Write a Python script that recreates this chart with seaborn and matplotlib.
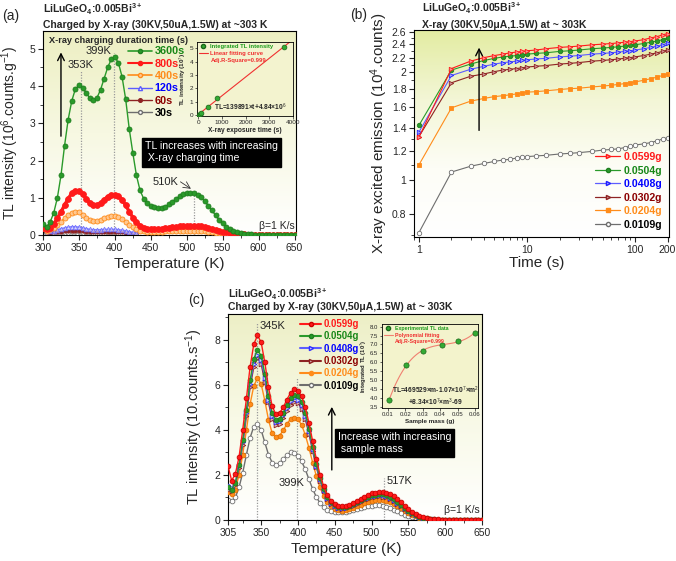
import numpy as np
import matplotlib
matplotlib.use("Agg")
import matplotlib.pyplot as plt
from matplotlib.lines import Line2D
from matplotlib.colors import LinearSegmentedColormap
import matplotlib.ticker as mticker
import seaborn as sns

sns.set_theme(style="ticks")
plt.rcParams['font.family'] = ['Liberation Sans', 'DejaVu Sans']
plt.rcParams['mathtext.fontset'] = 'custom'
plt.rcParams['mathtext.rm'] = 'Liberation Sans'
plt.rcParams['mathtext.it'] = 'Liberation Sans:italic'
plt.rcParams['mathtext.bf'] = 'Liberation Sans:bold'
plt.rcParams['axes.edgecolor'] = 'black'
plt.rcParams['axes.linewidth'] = 0.8

# ---------------- DATA ----------------
# Panel (a): TL glow curves for different X-ray charging times
temp_a = list(range(300, 655, 5))          # 71 points
temp_a_short = list(range(300, 435, 5))    # 27 points
tl_3600s = [0.30, 0.22, 0.35, 0.60, 1.00, 1.60, 2.40, 3.10, 3.60, 3.92,
            4.02, 3.96, 3.82, 3.68, 3.62, 3.68, 3.90, 4.20, 4.50, 4.72,
            4.78, 4.62, 4.25, 3.65, 2.85, 2.20, 1.60, 1.20, 0.98, 0.85,
            0.78, 0.74, 0.72, 0.73, 0.76, 0.82, 0.89, 0.97, 1.04, 1.09,
            1.12, 1.13, 1.12, 1.08, 1.01, 0.91, 0.79, 0.66, 0.53, 0.41,
            0.31, 0.22, 0.15, 0.10, 0.07, 0.05, 0.03, 0.02, 0.015, 0.01,
            0.01, 0.01, 0.01, 0.01, 0.01, 0.01, 0.01, 0.01, 0.01, 0.01,
            0.01]
tl_800s = [0.20, 0.15, 0.20, 0.30, 0.45, 0.62, 0.80, 0.98, 1.12, 1.19,
           1.18, 1.10, 0.98, 0.86, 0.80, 0.80, 0.86, 0.95, 1.03, 1.08,
           1.08, 1.04, 0.95, 0.80, 0.63, 0.47, 0.34, 0.25, 0.20, 0.17,
           0.16, 0.16, 0.16, 0.17, 0.18, 0.20, 0.21, 0.22, 0.23, 0.24,
           0.25, 0.25, 0.25, 0.24, 0.23, 0.21, 0.19, 0.16, 0.14, 0.11,
           0.09, 0.07, 0.05, 0.04, 0.03, 0.02, 0.015, 0.01, 0.005, 0.0,
           0.0, 0.0, 0.0, 0.0, 0.0, 0.0, 0.0, 0.0, 0.0, 0.0,
           0.0]
tl_400s = [0.18, 0.12, 0.15, 0.20, 0.27, 0.36, 0.45, 0.54, 0.60, 0.63,
           0.61, 0.55, 0.47, 0.41, 0.38, 0.38, 0.41, 0.45, 0.48, 0.50,
           0.50, 0.48, 0.43, 0.36, 0.28, 0.21, 0.15, 0.12, 0.10, 0.09,
           0.085, 0.085, 0.085, 0.09, 0.095, 0.10, 0.105, 0.11, 0.115, 0.12,
           0.12, 0.12, 0.12, 0.115, 0.11, 0.10, 0.09, 0.08, 0.065, 0.05,
           0.04, 0.03, 0.02, 0.015, 0.01, 0.005, 0.0, 0.0, 0.0, 0.0,
           0.0, 0.0, 0.0, 0.0, 0.0, 0.0, 0.0, 0.0, 0.0, 0.0,
           0.0]
tl_120s = [0.15, 0.10, 0.10, 0.12, 0.14, 0.17, 0.19, 0.21, 0.22, 0.22,
           0.21, 0.19, 0.17, 0.15, 0.14, 0.14, 0.14, 0.15, 0.15, 0.15,
           0.15, 0.14, 0.13, 0.11, 0.09, 0.07, 0.05]
tl_60s = [0.12, 0.07, 0.06, 0.07, 0.08, 0.09, 0.10, 0.11, 0.12, 0.12,
          0.11, 0.10, 0.09, 0.08, 0.07, 0.07, 0.07, 0.08, 0.08, 0.08,
          0.08, 0.07, 0.07, 0.06, 0.05, 0.04, 0.03]
tl_30s = [0.08, 0.04, 0.04, 0.04, 0.05, 0.05, 0.06, 0.06, 0.07, 0.07,
          0.07, 0.06, 0.05, 0.05, 0.04, 0.04, 0.04, 0.04, 0.05, 0.05,
          0.05, 0.04, 0.04, 0.03, 0.03, 0.02, 0.02]
duration_labels = ['3600s', '800s', '400s', '120s', '60s', '30s']

# inset (a): integrated TL vs exposure time
exposure_time = [30, 60, 120, 400, 800, 3600]
integrated_tl = [0.05, 0.10, 0.17, 0.65, 1.30, 5.05]

# Panel (b): X-ray excited emission vs time
time_b = [1, 2, 3, 4, 5, 6, 7, 8, 9, 10, 12, 15, 20, 25, 30, 40, 50, 60, 70,
          80, 90, 100, 120, 140, 160, 180, 200]
em_0599 = [1.315, 2.05, 2.15, 2.20, 2.23, 2.25, 2.27, 2.28, 2.29, 2.30, 2.31, 2.33,
           2.35, 2.36, 2.37, 2.39, 2.40, 2.41, 2.42, 2.43, 2.44, 2.45, 2.47, 2.50,
           2.52, 2.55, 2.57]
em_0504 = [1.42, 2.03, 2.11, 2.16, 2.19, 2.21, 2.22, 2.23, 2.24, 2.25, 2.26, 2.27,
           2.29, 2.30, 2.31, 2.33, 2.34, 2.35, 2.36, 2.37, 2.38, 2.39, 2.41, 2.43,
           2.45, 2.47, 2.50]
em_0408 = [1.36, 1.96, 2.04, 2.08, 2.11, 2.13, 2.14, 2.15, 2.16, 2.17, 2.18, 2.19,
           2.21, 2.22, 2.23, 2.25, 2.26, 2.27, 2.28, 2.29, 2.30, 2.31, 2.33, 2.35,
           2.37, 2.39, 2.42]
em_0302 = [1.32, 1.87, 1.95, 1.98, 2.01, 2.03, 2.04, 2.05, 2.06, 2.07, 2.08, 2.09,
           2.11, 2.12, 2.13, 2.15, 2.16, 2.17, 2.18, 2.19, 2.20, 2.21, 2.23, 2.25,
           2.27, 2.29, 2.31]
em_0204 = [1.10, 1.59, 1.66, 1.69, 1.71, 1.72, 1.73, 1.74, 1.75, 1.76, 1.765, 1.775,
           1.79, 1.80, 1.805, 1.82, 1.83, 1.84, 1.85, 1.86, 1.87, 1.88, 1.90, 1.92,
           1.94, 1.96, 1.98]
em_0109 = [0.71, 1.05, 1.09, 1.11, 1.125, 1.135, 1.14, 1.15, 1.155, 1.16, 1.165, 1.17,
           1.18, 1.185, 1.19, 1.20, 1.21, 1.215, 1.22, 1.23, 1.24, 1.25, 1.26, 1.27,
           1.285, 1.30, 1.31]
mass_labels = ['0.0599g', '0.0504g', '0.0408g', '0.0302g', '0.0204g', '0.0109g']

# Panel (c): TL glow curves for different sample masses
temp_c = list(range(305, 655, 5))  # 70 points
tlc_0599 = [2.40, 1.75, 2.05, 2.80, 4.00, 5.40, 6.80, 7.80, 8.20, 7.90,
            7.00, 5.90, 5.05, 4.70, 4.75, 5.00, 5.35, 5.65, 5.80, 5.75,
            5.50, 5.00, 4.30, 3.50, 2.70, 2.00, 1.50, 1.10, 0.85, 0.70,
            0.62, 0.60, 0.62, 0.68, 0.76, 0.85, 0.95, 1.04, 1.12, 1.18,
            1.22, 1.25, 1.25, 1.22, 1.15, 1.05, 0.92, 0.78, 0.63, 0.48,
            0.36, 0.26, 0.18, 0.12, 0.08, 0.05, 0.04, 0.03, 0.02, 0.02,
            0.01, 0.01, 0.01, 0.01, 0.01, 0.01, 0.01, 0.01, 0.01, 0.01]
tlc_0504 = [1.45, 1.35, 1.65, 2.45, 3.55, 4.90, 6.20, 7.15, 7.55, 7.30,
            6.50, 5.50, 4.75, 4.45, 4.50, 4.75, 5.10, 5.40, 5.55, 5.50,
            5.25, 4.75, 4.05, 3.25, 2.50, 1.85, 1.38, 1.02, 0.80, 0.66,
            0.58, 0.56, 0.58, 0.63, 0.70, 0.79, 0.88, 0.96, 1.04, 1.09,
            1.13, 1.15, 1.14, 1.10, 1.03, 0.93, 0.81, 0.68, 0.55, 0.42,
            0.31, 0.22, 0.15, 0.10, 0.07, 0.05, 0.03, 0.02, 0.02, 0.01,
            0.01, 0.01, 0.01, 0.01, 0.01, 0.01, 0.01, 0.01, 0.01, 0.01]
tlc_0408 = [1.55, 1.40, 1.65, 2.40, 3.45, 4.75, 6.05, 6.95, 7.35, 7.10,
            6.30, 5.35, 4.60, 4.35, 4.40, 4.65, 4.98, 5.27, 5.40, 5.35,
            5.10, 4.62, 3.95, 3.15, 2.42, 1.80, 1.33, 0.98, 0.76, 0.63,
            0.55, 0.53, 0.55, 0.60, 0.67, 0.75, 0.84, 0.92, 0.99, 1.05,
            1.08, 1.10, 1.09, 1.05, 0.98, 0.88, 0.77, 0.65, 0.52, 0.40,
            0.29, 0.21, 0.14, 0.09, 0.06, 0.04, 0.03, 0.02, 0.02, 0.01,
            0.01, 0.01, 0.01, 0.01, 0.01, 0.01, 0.01, 0.01, 0.01, 0.01]
tlc_0302 = [1.35, 1.30, 1.55, 2.30, 3.35, 4.62, 5.90, 6.80, 7.20, 6.95,
            6.15, 5.22, 4.48, 4.22, 4.27, 4.52, 4.85, 5.12, 5.25, 5.20,
            4.95, 4.48, 3.83, 3.05, 2.35, 1.74, 1.29, 0.95, 0.73, 0.60,
            0.52, 0.50, 0.52, 0.57, 0.63, 0.71, 0.80, 0.87, 0.94, 1.00,
            1.03, 1.05, 1.04, 1.00, 0.93, 0.84, 0.73, 0.62, 0.50, 0.38,
            0.28, 0.20, 0.13, 0.09, 0.06, 0.04, 0.03, 0.02, 0.02, 0.01,
            0.01, 0.01, 0.01, 0.01, 0.01, 0.01, 0.01, 0.01, 0.01, 0.01]
tlc_0204 = [1.25, 1.15, 1.35, 2.00, 2.90, 4.00, 5.15, 5.95, 6.30, 6.05,
            5.30, 4.45, 3.85, 3.68, 3.75, 3.98, 4.27, 4.48, 4.55, 4.48,
            4.22, 3.78, 3.20, 2.55, 1.95, 1.45, 1.08, 0.80, 0.61, 0.50,
            0.44, 0.42, 0.44, 0.48, 0.54, 0.61, 0.68, 0.75, 0.81, 0.86,
            0.89, 0.90, 0.89, 0.85, 0.79, 0.71, 0.62, 0.52, 0.42, 0.32,
            0.23, 0.16, 0.11, 0.07, 0.05, 0.03, 0.02, 0.02, 0.01, 0.01,
            0.01, 0.01, 0.01, 0.01, 0.01, 0.01, 0.01, 0.01, 0.01, 0.01]
tlc_0109 = [0.90, 0.85, 1.00, 1.45, 2.10, 2.90, 3.65, 4.15, 4.25, 4.00,
            3.45, 2.90, 2.55, 2.45, 2.52, 2.70, 2.88, 3.00, 2.98, 2.85,
            2.60, 2.25, 1.80, 1.38, 1.02, 0.75, 0.56, 0.45, 0.38, 0.35,
            0.34, 0.34, 0.36, 0.39, 0.43, 0.48, 0.53, 0.58, 0.62, 0.64,
            0.65, 0.65, 0.63, 0.59, 0.53, 0.46, 0.38, 0.30, 0.23, 0.17,
            0.12, 0.08, 0.05, 0.04, 0.03, 0.02, 0.02, 0.01, 0.01, 0.01,
            0.01, 0.01, 0.01, 0.01, 0.01, 0.01, 0.01, 0.01, 0.01, 0.01]

# inset (c): integrated TL vs sample mass
sample_mass = [0.0109, 0.0204, 0.0302, 0.0408, 0.0504, 0.0599]
integrated_tl_mass = [3.90, 5.83, 6.65, 6.95, 7.20, 7.65]

# ---------------- STYLE ----------------
GREEN, GREEN_T = '#2a9a2a', '#178717'
RED = '#ff1a1a'
ORANGE = '#ff8c1a'
BLUE, BLUE_T = '#5c5cff', '#0000ff'
MAROON, MAROON_T = '#8e2323', '#8b0000'
GRAY, GRAY_T = '#6e6e6e', '#000000'

W, H = 676, 561
fig = plt.figure(figsize=(W / 100, H / 100), dpi=100)


def rect(l, t, r, b):
    return [l / W, 1 - b / H, (r - l) / W, (b - t) / H]


def fx(x, y):
    return x / W, 1 - y / H


def add_bg(r, colors):
    bg = fig.add_axes(r, zorder=-5)
    cmap = LinearSegmentedColormap.from_list('bg', colors)
    grad = np.linspace(0, 1, 256).reshape(-1, 1)
    bg.imshow(grad, cmap=cmap, aspect='auto', extent=[0, 1, 0, 1], origin='upper')
    bg.set_axis_off()


def draw(ax, x, y, color, marker, ms, lw, mfc=None, mec=None, z=2, alpha=1.0, mew=0.6):
    sns.lineplot(x=x, y=y, color=color, marker=marker, markersize=ms, linewidth=lw,
                 markerfacecolor=(mfc if mfc is not None else color),
                 markeredgecolor=(mec if mec is not None else color),
                 markeredgewidth=mew, estimator=None, sort=False, ax=ax,
                 zorder=z, alpha=alpha, legend=False)


def style_ticks(ax, size=7.5):
    ax.tick_params(which='major', direction='out', length=3.5, width=0.8,
                   labelsize=size, pad=2, top=False, right=False)
    ax.tick_params(which='minor', direction='out', length=2, width=0.6,
                   top=False, right=False)


title_kw = dict(fontsize=7.5, fontweight='bold', ha='left', va='center')
formula = r'LiLuGeO$_{\mathbf{4}}$:0.005Bi$^{\mathbf{3+}}$'

# ====================== PANEL (a) ======================
ra = rect(43, 31, 296, 235)
add_bg(ra, ['#edefc2', '#f7f8e2', '#ffffff'])
axa = fig.add_axes(ra, zorder=1)
axa.set_facecolor('none')

draw(axa, temp_a_short, tl_30s, GRAY, 'o', 2.6, 0.8, mfc='white', mec=GRAY, z=2)
draw(axa, temp_a_short, tl_60s, MAROON, 'o', 2.4, 0.8, z=2)
draw(axa, temp_a_short, tl_120s, BLUE, '^', 3.4, 1.2, mfc='#c8c8ff', mec=BLUE, z=2, alpha=0.75)
draw(axa, temp_a, tl_400s, ORANGE, 'o', 3.6, 1.2, mfc='#ffc890', mec=ORANGE, z=3)
draw(axa, temp_a, tl_800s, RED, 'o', 4.2, 2.4, z=4)
draw(axa, temp_a, tl_3600s, GREEN, 'o', 3.6, 1.0, mec='#1f7f1f', z=5)

axa.set_xlim(300, 652)
axa.set_ylim(0, 5.48)
axa.xaxis.set_major_locator(mticker.MultipleLocator(50))
axa.xaxis.set_minor_locator(mticker.MultipleLocator(25))
axa.yaxis.set_major_locator(mticker.MultipleLocator(1))
axa.yaxis.set_minor_locator(mticker.MultipleLocator(0.5))
style_ticks(axa)
axa.set_xlabel('Temperature (K)', fontsize=11)
axa.set_ylabel(r'TL intensity (10$^{6}$.counts.g$^{-1}$)', fontsize=10)
axa.xaxis.set_label_coords(0.5, -0.11)
axa.yaxis.set_label_coords(-0.085, 0.5)

# guide lines and annotations
dot_kw = dict(color='#9a9a9a', linestyle=(0, (1, 1.2)), linewidth=0.9, zorder=1)
axa.plot([353, 353], [0, 4.40], **dot_kw)
axa.plot([399, 399], [0, 4.90], **dot_kw)
axa.plot([510, 510], [0, 1.15], **dot_kw)
axa.text(352, 4.58, '353K', fontsize=8, ha='center', va='center', zorder=6)
axa.text(377, 4.94, '399K', fontsize=8, ha='center', va='center', zorder=6)
axa.text(470, 1.43, '510K', fontsize=8, ha='center', va='center', zorder=6)
axa.annotate('', xy=(509, 1.20), xytext=(488, 1.47),
             arrowprops=dict(arrowstyle='->', color='#333333', lw=0.6), zorder=6)
axa.annotate('', xy=(325, 4.98), xytext=(325, 2.58),
             arrowprops=dict(arrowstyle='->', color='black', lw=1.0,
                             mutation_scale=12), zorder=6)
axa.text(442, 2.22, 'TL increases with increasing\n X-ray charging time', fontsize=7.6,
         color='white', ha='left', va='center', linespacing=1.25, zorder=7,
         bbox=dict(facecolor='black', edgecolor='black', boxstyle='square,pad=0.3'))
axa.text(650, 0.25, 'β=1 K/s', fontsize=7.5, ha='right', va='center', zorder=6)
axa.text(0.024, 0.955, 'X-ray charging duration time (s)', transform=axa.transAxes,
         fontsize=6.6, fontweight='bold', ha='left', va='center', zorder=7)

handles_a = [
    Line2D([], [], color=GREEN, marker='o', ms=3, lw=1.2, mec='#1f7f1f'),
    Line2D([], [], color=RED, marker='o', ms=3, lw=1.5),
    Line2D([], [], color=ORANGE, marker='o', ms=3, lw=1.2, mfc='#ffc890'),
    Line2D([], [], color=BLUE, marker='^', ms=3, lw=1.0, mfc='white'),
    Line2D([], [], color=MAROON, marker='o', ms=2.6, lw=1.0),
    Line2D([], [], color=GRAY, marker='o', ms=2.8, lw=1.0, mfc='white'),
]
leg_a = axa.legend(handles_a, duration_labels, loc='upper left',
                   bbox_to_anchor=(0.336, 0.925), frameon=False, borderpad=0,
                   borderaxespad=0, handlelength=2.2, handletextpad=0.25,
                   labelspacing=0.22, prop=dict(size=7.8, weight='bold'))
for t, c in zip(leg_a.get_texts(), [GREEN_T, RED, ORANGE, BLUE_T, MAROON_T, GRAY_T]):
    t.set_color(c)
leg_a.set_zorder(8)

fig.text(*fx(2, 16), '(a)', fontsize=10, ha='left', va='center')
fig.text(*fx(43, 9), formula, **title_kw)
fig.text(*fx(43, 25), 'Charged by X-ray (30KV,50uA,1.5W) at ~303 K', **title_kw)

# inset (a)
ria = rect(197, 42, 293, 116)
axia = fig.add_axes(ria, zorder=6)
axia.set_facecolor('#f3f3cf')
fit = np.polyfit(exposure_time, integrated_tl, 1)
fit_t = np.array([0, 3900])
sns.lineplot(x=fit_t, y=np.polyval(fit, fit_t), color='#f03030', linewidth=0.8,
             ax=axia, legend=False, zorder=2)
sns.scatterplot(x=exposure_time, y=integrated_tl, color='#33aa33', edgecolor='#1a661a',
                s=12, linewidth=0.5, ax=axia, legend=False, zorder=3)
axia.set_xlim(-50, 4000)
axia.set_ylim(-0.05, 5.45)
axia.xaxis.set_major_locator(mticker.MultipleLocator(1000))
axia.yaxis.set_major_locator(mticker.MultipleLocator(1))
axia.tick_params(which='major', direction='out', length=1.8, width=0.5,
                 labelsize=4.6, pad=1)
for s in axia.spines.values():
    s.set_linewidth(0.6)
axia.set_xlabel('X-ray exposure time (s)', fontsize=4.8, fontweight='bold', labelpad=1.5)
axia.set_ylabel(r'TL intensity (10$^{7}$)', fontsize=4.6, fontweight='bold', labelpad=1)
axia.text(0.18, 0.12, 'TL=139891×t+4.84×10$^{6}$', transform=axia.transAxes,
          fontsize=4.8, fontweight='bold', ha='left', va='center')
hia = [Line2D([], [], color='#33aa33', marker='o', ms=3, lw=0, mec='#1a661a'),
       Line2D([], [], color='#f03030', lw=0.8),
       Line2D([], [], lw=0)]
lia = axia.legend(hia, ['Integrated TL intensity', 'Linear fitting curve', 'Adj.R-Square=0.999'],
                  loc='upper left', bbox_to_anchor=(0.0, 1.0), frameon=False,
                  borderpad=0.2, borderaxespad=0.1, handlelength=1.6,
                  handletextpad=0.4, labelspacing=0.35, prop=dict(size=4.2, weight='bold'))
for t, c in zip(lia.get_texts(), ['#1a9a1a', '#f03030', '#f03030']):
    t.set_color(c)

# ====================== PANEL (b) ======================
rb = rect(414, 30, 669, 237)
add_bg(rb, ['#e3eca2', '#f3f6d6', '#fdfdf6', '#ffffff'])
axb = fig.add_axes(rb, zorder=1)
axb.set_facecolor('none')
b_series = [
    (em_0109, GRAY, 'o', 'white', GRAY),
    (em_0204, ORANGE, 's', ORANGE, ORANGE),
    (em_0302, MAROON, '>', '#d09090', MAROON),
    (em_0408, BLUE, '>', '#a0a0ff', '#2020ff'),
    (em_0504, GREEN, 'o', GREEN, '#1f7f1f'),
    (em_0599, RED, '>', '#ff9090', RED),
]
for i, (vals, c, m, mfc, mec) in enumerate(b_series):
    draw(axb, time_b, vals, c, m, 3.2, 0.8, mfc=mfc, mec=mec, z=2 + i)
axb.set_xscale('log')
axb.set_yscale('log')
axb.set_xlim(0.9, 206)
axb.set_ylim(0.69, 2.63)
axb.xaxis.set_major_locator(mticker.FixedLocator([1, 10, 100, 200]))
axb.xaxis.set_major_formatter(mticker.FormatStrFormatter('%g'))
axb.xaxis.set_minor_locator(mticker.LogLocator(base=10, subs=np.arange(2, 10)))
axb.xaxis.set_minor_formatter(mticker.NullFormatter())
yt = [0.8, 1.0, 1.2, 1.4, 1.6, 1.8, 2.0, 2.2, 2.4, 2.6]
axb.yaxis.set_major_locator(mticker.FixedLocator(yt))
axb.yaxis.set_major_formatter(mticker.FormatStrFormatter('%g'))
axb.yaxis.set_minor_locator(mticker.FixedLocator([0.7, 0.9, 1.1, 1.3, 1.5, 1.7, 1.9,
                                                  2.1, 2.3, 2.5]))
axb.yaxis.set_minor_formatter(mticker.NullFormatter())
style_ticks(axb)
axb.set_xlabel('Time (s)', fontsize=11)
axb.set_ylabel(r'X-ray excited emission (10$^{4}$.counts)', fontsize=11)
axb.xaxis.set_label_coords(0.48, -0.09)
axb.yaxis.set_label_coords(-0.093, 0.5)
axb.annotate('', xy=(3.6, 2.39), xytext=(3.6, 1.35),
             arrowprops=dict(arrowstyle='->', color='black', lw=1.0,
                             mutation_scale=12), zorder=8)
handles_b = [
    Line2D([], [], color=RED, marker='>', ms=3, lw=0.9, mfc='#ff9090', mec=RED),
    Line2D([], [], color=GREEN, marker='o', ms=3, lw=0.9, mec='#1f7f1f'),
    Line2D([], [], color=BLUE, marker='>', ms=3, lw=0.9, mfc='#a0a0ff', mec='#2020ff'),
    Line2D([], [], color=MAROON, marker='>', ms=3, lw=0.9, mfc='#d09090'),
    Line2D([], [], color=ORANGE, marker='s', ms=3, lw=0.9),
    Line2D([], [], color=GRAY, marker='o', ms=3, lw=0.9, mfc='white'),
]
leg_b = axb.legend(handles_b, mass_labels, loc='upper left', bbox_to_anchor=(0.71, 0.41),
                   frameon=False, borderpad=0, borderaxespad=0, handlelength=2.4,
                   handletextpad=0.3, labelspacing=0.33, prop=dict(size=7.6, weight='bold'))
for t, c in zip(leg_b.get_texts(), [RED, GREEN_T, BLUE_T, MAROON_T, ORANGE, GRAY_T]):
    t.set_color(c)

fig.text(*fx(350, 15), '(b)', fontsize=10, ha='left', va='center')
fig.text(*fx(422, 8), formula, **title_kw)
fig.text(*fx(422, 25), 'X-ray (30KV,50μA,1.5W) at ~ 303K', **title_kw)

# ====================== PANEL (c) ======================
rc = rect(228, 314, 482, 520)
add_bg(rc, ['#edefc6', '#f8f9e6', '#ffffff'])
axc = fig.add_axes(rc, zorder=1)
axc.set_facecolor('none')
c_series = [
    (tlc_0109, GRAY, 'o', 'white', GRAY),
    (tlc_0204, ORANGE, 'o', ORANGE, '#e07000'),
    (tlc_0302, MAROON, '>', '#d8b0b0', MAROON),
    (tlc_0408, BLUE, '>', '#d0d0ff', '#3030ff'),
    (tlc_0504, GREEN, 'o', GREEN, '#1f7f1f'),
    (tlc_0599, RED, 'o', RED, '#cc0000'),
]
for i, (vals, c, m, mfc, mec) in enumerate(c_series):
    draw(axc, temp_c, vals, c, m, 3.4, 1.0, mfc=mfc, mec=mec, z=2 + i)
axc.set_xlim(305, 650)
axc.set_ylim(0, 9.15)
axc.xaxis.set_major_locator(mticker.FixedLocator([305, 350, 400, 450, 500, 550, 600, 650]))
axc.xaxis.set_minor_locator(mticker.FixedLocator([325, 375, 425, 475, 525, 575, 625]))
axc.yaxis.set_major_locator(mticker.MultipleLocator(2))
axc.yaxis.set_minor_locator(mticker.MultipleLocator(1))
style_ticks(axc)
axc.set_xlabel('Temperature (K)', fontsize=11)
axc.set_ylabel(r'TL intensity (10.counts.s$^{-1}$)', fontsize=10.5)
axc.xaxis.set_label_coords(0.467, -0.105)
axc.yaxis.set_label_coords(-0.09, 0.5)

axc.plot([345, 345], [0, 8.75], **dot_kw)
axc.plot([399, 399], [0, 6.35], **dot_kw)
axc.plot([517, 517], [0, 1.85], **dot_kw)
axc.text(348, 8.6, '345K', fontsize=8, ha='left', va='center', zorder=9)
axc.text(391, 1.65, '399K', fontsize=8, ha='center', va='center', zorder=9)
axc.text(520, 1.75, '517K', fontsize=8, ha='left', va='center', zorder=9)
axc.annotate('', xy=(446, 5.15), xytext=(446, 2.1),
             arrowprops=dict(arrowstyle='->', color='black', lw=1.0,
                             mutation_scale=12), zorder=9)
axc.text(454, 3.42, 'Increase with increasing\n sample mass', fontsize=7.6,
         color='white', ha='left', va='center', linespacing=1.25, zorder=10,
         bbox=dict(facecolor='black', edgecolor='black', boxstyle='square,pad=0.3'))
axc.text(647, 0.45, 'β=1 K/s', fontsize=7.5, ha='right', va='center', zorder=9)

handles_c = [
    Line2D([], [], color=RED, marker='o', ms=3, lw=1.5, mec='#cc0000'),
    Line2D([], [], color=GREEN, marker='o', ms=3, lw=1.5, mec='#1f7f1f'),
    Line2D([], [], color=BLUE, marker='>', ms=3, lw=1.5, mfc='#d0d0ff', mec='#3030ff'),
    Line2D([], [], color=MAROON, marker='>', ms=3, lw=1.5, mfc='#d8b0b0'),
    Line2D([], [], color=ORANGE, marker='o', ms=3, lw=1.5),
    Line2D([], [], color=GRAY, marker='o', ms=3, lw=1.5, mfc='white'),
]
leg_c = axc.legend(handles_c, mass_labels, loc='upper left', bbox_to_anchor=(0.285, 0.975),
                   frameon=False, borderpad=0, borderaxespad=0, handlelength=2.2,
                   handletextpad=0.25, labelspacing=0.24, prop=dict(size=6.9, weight='bold'))
for t, c in zip(leg_c.get_texts(), [RED, GREEN_T, BLUE_T, MAROON_T, ORANGE, GRAY_T]):
    t.set_color(c)
leg_c.set_zorder(12)

fig.text(*fx(188, 300), '(c)', fontsize=10, ha='left', va='center')
fig.text(*fx(228, 294), formula, **title_kw)
fig.text(*fx(228, 307), 'Charged by X-ray (30KV,50μA,1.5W) at ~ 303K', **title_kw)

# inset (c)
ric = rect(382, 324, 478, 408)
axic = fig.add_axes(ric, zorder=6)
axic.set_facecolor('#f3f3cc')
pcoef = np.polyfit(sample_mass, integrated_tl_mass, 3)
m_fine = np.linspace(sample_mass[0], sample_mass[-1], 120)
sns.lineplot(x=m_fine, y=np.polyval(pcoef, m_fine), color='#f08070', linewidth=0.8,
             ax=axic, legend=False, zorder=2)
sns.scatterplot(x=sample_mass, y=integrated_tl_mass, color='#33aa33', edgecolor='#1a661a',
                s=14, linewidth=0.5, ax=axic, legend=False, zorder=3)
axic.set_xlim(0.0067, 0.0617)
axic.set_ylim(3.43, 8.15)
axic.xaxis.set_major_locator(mticker.MultipleLocator(0.01))
axic.xaxis.set_major_formatter(mticker.FormatStrFormatter('%.2f'))
axic.yaxis.set_major_locator(mticker.MultipleLocator(0.5))
axic.yaxis.set_major_formatter(mticker.FormatStrFormatter('%.1f'))
axic.tick_params(which='major', direction='out', length=1.8, width=0.5,
                 labelsize=4.3, pad=1)
for s in axic.spines.values():
    s.set_linewidth(0.6)
axic.set_xlabel('Sample mass (g)', fontsize=4.5, fontweight='bold', labelpad=1.5)
axic.set_ylabel(r'Integrated TL (10$^{7}$)', fontsize=4.2, fontweight='bold', labelpad=0.5)
axic.text(0.0375, 4.40, 'TL=469529×m-1.07×10$^{7}$×m$^{2}$', fontsize=4.8,
          fontweight='bold', ha='center', va='center')
axic.text(0.0375, 3.76, '+8.34×10$^{7}$×m$^{3}$-69', fontsize=4.8,
          fontweight='bold', ha='center', va='center')
hic = [Line2D([], [], color='#33aa33', marker='o', ms=3, lw=0, mec='#1a661a'),
       Line2D([], [], color='#f08070', lw=0.8),
       Line2D([], [], lw=0)]
lic = axic.legend(hic, ['Experimental TL data', 'Polynomial fitting', 'Adj.R-Square=0.999'],
                  loc='upper left', bbox_to_anchor=(0.0, 1.0), frameon=False,
                  borderpad=0.3, borderaxespad=0.1, handlelength=1.6,
                  handletextpad=0.4, labelspacing=0.3, prop=dict(size=3.8, weight='bold'))
for t, c in zip(lic.get_texts(), ['#1a9a1a', '#f03030', '#f03030']):
    t.set_color(c)

fig.savefig('out.png', dpi=100)
